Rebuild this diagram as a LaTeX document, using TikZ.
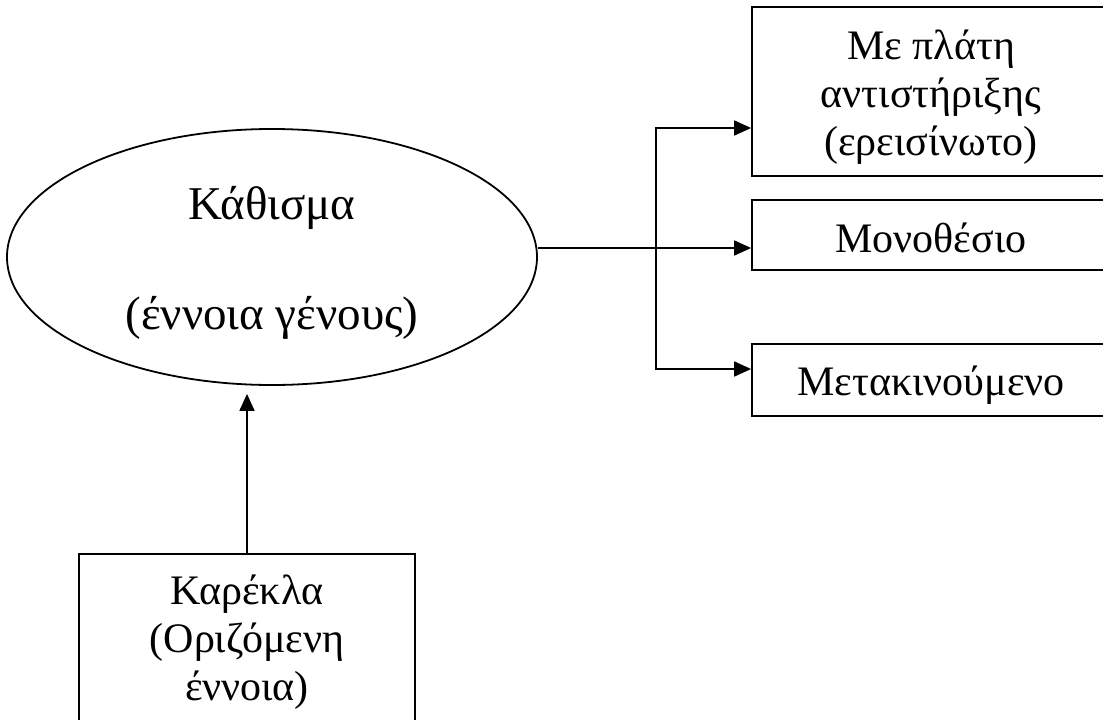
\documentclass[tikz,border=0pt]{standalone}
\usepackage{fontspec}
\setmainfont{Liberation Serif}
\usetikzlibrary{shapes.geometric,arrows.meta}
\newcommand{\txtup}[1]{\rule{0pt}{#1}}
\newcommand{\txtdown}[1]{\rule[-#1]{0pt}{#1}}
\begin{document}
\begin{tikzpicture}[x=1pt,y=-1pt]
\tikzstyle{every node}+=[inner sep=0pt, align=center]
\tikzstyle{boxfont}=[font=\fontsize{42}{48}\selectfont]
\tikzstyle{conceptbox}=[draw=black, line width=1.8pt, rectangle, boxfont, minimum width=358pt]
\tikzstyle{arr}=[line width=1.8pt, -{Triangle[length=17pt,width=15pt]}]
\useasboundingbox (0,0) rectangle (1103,720);
% genus concept
\node[draw=black, line width=1.8pt, ellipse, minimum width=530pt, minimum height=256pt,
  font=\fontsize{47}{53}\selectfont] (seat) at (272,257)
  {\txtup{45pt}Κάθισμα\\[57pt] (έννοια γένους)\txtdown{7pt}};
% kinds
\node[conceptbox, minimum height=169pt] (back) at (931,91.5)
  {\txtup{40pt}Με πλάτη\\ αντιστήριξης\\ (ερεισίνωτο)\txtdown{8pt}};
\node[conceptbox, minimum height=70pt] (mono) at (931,235) {\txtup{36pt}Μονοθέσιο\txtdown{2pt}};
\node[conceptbox, minimum height=72pt] (move) at (931,380) {\txtup{39pt}Μετακινούμενο};
% defined concept
\node[conceptbox, minimum width=336pt, minimum height=190pt, anchor=north] (chair) at (247,553)
  {\txtup{40pt}Καρέκλα\\ (Οριζόμενη\\ έννοια)\txtdown{32pt}};
% connectors
\coordinate (split) at (656,248);
\draw[line width=1.8pt] (seat.east |- split) -- (split);
\draw[arr] (split) -- (split -| mono.west);
\draw[arr] (split) |- ([yshift=-36.5pt]back.west);
\draw[arr] (split) |- ([yshift=11pt]move.west);
\draw[arr] (chair.north) -- ([yshift=-8pt]seat.south -| chair.north);
\end{tikzpicture}
\end{document}
